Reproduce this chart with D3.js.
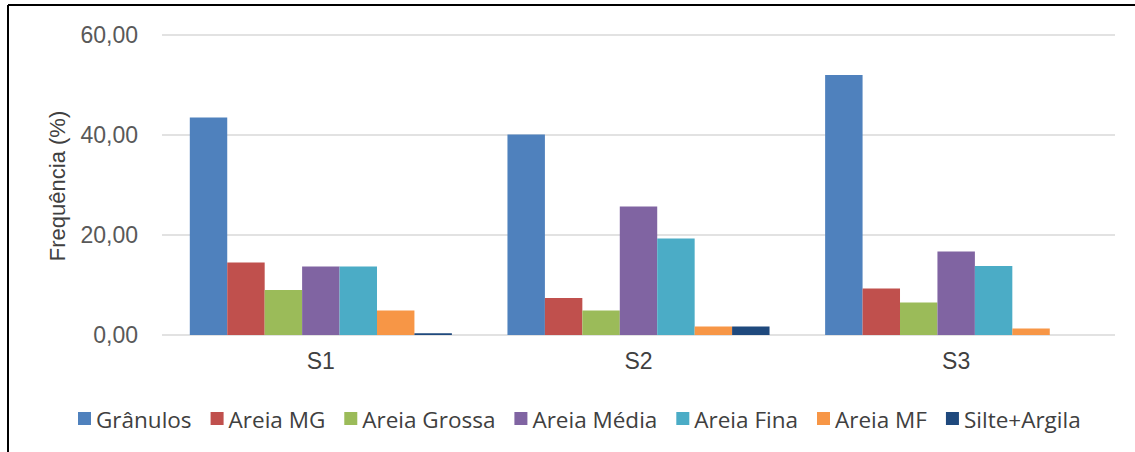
<!DOCTYPE html>
<html>
<head>
<meta charset="utf-8">
<script src="https://cdn.jsdelivr.net/npm/d3@7"></script>
<style>
  body { margin: 0; background: #fff; }
  text { font-family: "Liberation Sans", Arial, sans-serif; }
</style>
</head>
<body>
<script>
var svgWidth = 1135;
var svgHeight = 452;

// data
var samples = ["S1", "S2", "S3"];
var fractions = ["Grânulos", "Areia MG", "Areia Grossa", "Areia Média", "Areia Fina", "Areia MF", "Silte+Argila"];
var granulos = [43.5, 40.1, 52.0];
var areiaMG = [14.5, 7.4, 9.3];
var areiaGrossa = [9.0, 4.9, 6.5];
var areiaMedia = [13.7, 25.7, 16.7];
var areiaFina = [13.7, 19.3, 13.8];
var areiaMF = [4.9, 1.7, 1.3];
var silteArgila = [0.35, 1.7, 0.0];
var yTicks = [0, 20, 40, 60];
var colors = ["#4F81BD", "#C0504D", "#9BBB59", "#8064A2", "#4BACC6", "#F79646", "#1F497D"];

var seriesValues = [granulos, areiaMG, areiaGrossa, areiaMedia, areiaFina, areiaMF, silteArgila];

var margin = { top: 35, right: 20, bottom: 117, left: 162 };
var width = svgWidth - margin.left - margin.right;
var height = svgHeight - margin.top - margin.bottom;

var svg = d3.select("body")
  .append("svg")
  .attr("width", svgWidth)
  .attr("height", svgHeight);

// frame of the original figure
svg.append("line").attr("x1", 8).attr("x2", 8).attr("y1", 5).attr("y2", svgHeight)
  .attr("stroke", "#000").attr("stroke-width", 2);
svg.append("line").attr("x1", 8).attr("x2", svgWidth).attr("y1", 5).attr("y2", 5)
  .attr("stroke", "#000").attr("stroke-width", 2);

var chartGroup = svg.append("g")
  .attr("transform", `translate(${margin.left}, ${margin.top})`);

var x0 = d3.scaleBand()
  .domain(samples)
  .range([0, width])
  .paddingInner(0.175)
  .paddingOuter(0.0875);

var x1 = d3.scaleBand()
  .domain(fractions)
  .range([0, x0.bandwidth()]);

var y = d3.scaleLinear()
  .domain([0, 60])
  .range([height, 0]);

// gridlines
chartGroup.append("g")
  .selectAll("line")
  .data(yTicks)
  .join("line")
  .attr("x1", 0)
  .attr("x2", width)
  .attr("y1", d => y(d))
  .attr("y2", d => y(d))
  .attr("stroke", "#D9D9D9")
  .attr("stroke-width", 1.5);

// y axis labels
var leftAxis = d3.axisLeft(y)
  .tickValues(yTicks)
  .tickSize(0)
  .tickPadding(24)
  .tickFormat(d => d3.format(".2f")(d).replace(".", ","));

var yAxis = chartGroup.append("g").call(leftAxis);
yAxis.select(".domain").remove();
yAxis.selectAll("text")
  .attr("fill", "#595959")
  .style("font-size", "23px");

// bars
var groups = chartGroup.append("g")
  .selectAll("g")
  .data(samples)
  .join("g")
  .attr("transform", d => `translate(${x0(d)},0)`);

groups.selectAll("rect")
  .data((s, i) => fractions.map((f, k) => ({ f: f, v: seriesValues[k][i], c: colors[k] })))
  .join("rect")
  .attr("x", d => x1(d.f))
  .attr("width", x1.bandwidth())
  .attr("y", d => y(d.v))
  .attr("height", d => y(0) - y(d.v))
  .attr("fill", d => d.c);

// x axis labels
var bottomAxis = d3.axisBottom(x0).tickSize(0).tickPadding(18);
var xAxis = chartGroup.append("g")
  .attr("transform", `translate(0, ${height})`)
  .call(bottomAxis);
xAxis.select(".domain").remove();
xAxis.selectAll("text")
  .attr("fill", "#404040")
  .style("font-size", "23px");

// y title
svg.append("text")
  .attr("transform", "translate(65, 186) rotate(-90)")
  .attr("text-anchor", "middle")
  .attr("fill", "#404040")
  .style("font-size", "22px")
  .text("Frequência (%)");

// legend
var legend = svg.append("g").attr("transform", "translate(78, 420)");
var lx = 0;
fractions.forEach(function(f, k) {
  legend.append("rect")
    .attr("x", lx)
    .attr("y", -8)
    .attr("width", 13)
    .attr("height", 13)
    .attr("fill", colors[k]);
  var t = legend.append("text")
    .attr("x", lx + 18)
    .attr("y", 8)
    .attr("fill", "#404040")
    .style("font-family", "'Open Sans', sans-serif")
    .style("font-size", "22.5px")
    .text(f);
  lx += 18 + t.node().getComputedTextLength() + 19;
});
</script>
</body>
</html>
